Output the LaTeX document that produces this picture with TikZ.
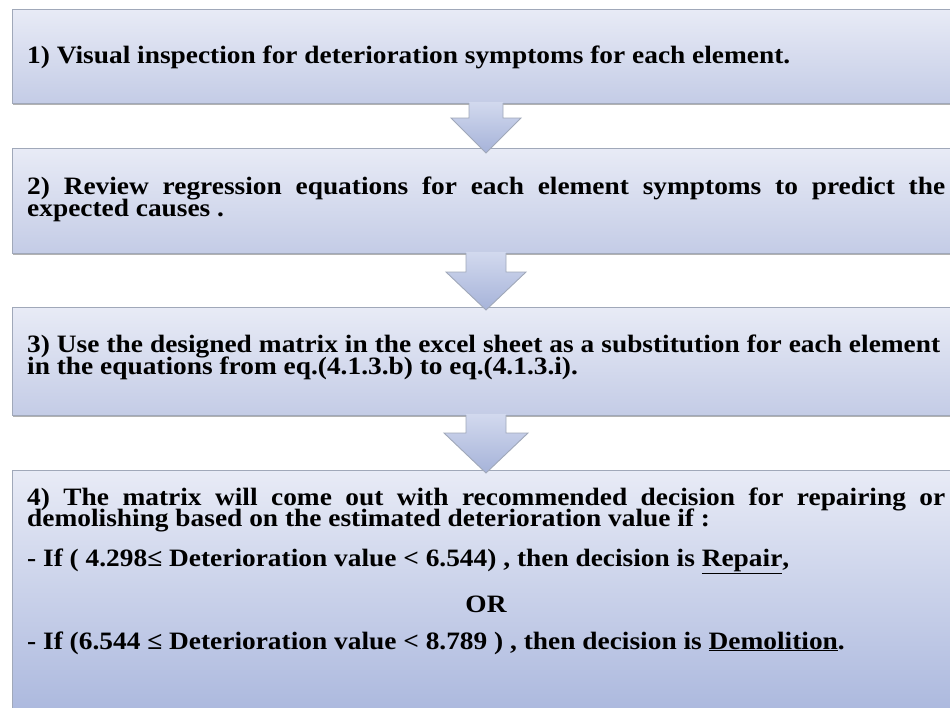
\documentclass[tikz,border=0pt]{standalone}
\usepackage{fontspec}
\setmainfont{Liberation Serif}[FakeStretch=1.095]
\usetikzlibrary{calc,shadows}
\definecolor{boxtop}{HTML}{E8EBF6}
\definecolor{boxbot}{HTML}{C4CCE6}
\definecolor{boxbotb}{HTML}{AAB7DD}
\definecolor{edge}{HTML}{A0A8B9}
\definecolor{arrtop}{HTML}{D2D9EE}
\definecolor{arrbot}{HTML}{A6B3D9}
\begin{document}
\begin{tikzpicture}[x=1pt,y=-1pt,
  stepbox/.style={draw=edge, line width=0.9pt, top color=boxtop, bottom color=boxbot,
    minimum width=948pt, anchor=north west, inner sep=0pt, outer sep=0pt,
    drop shadow={shadow xshift=1pt, shadow yshift=-2pt, opacity=0.3, fill=black}},
  txt/.style={anchor=base west, inner sep=0pt, font=\fontsize{25}{22}\selectfont\bfseries},
  arrfill/.style={top color=arrtop, bottom color=arrbot},
  arredge/.style={draw=edge, line width=0.9pt, line join=miter},
]
\useasboundingbox (0,0) rectangle (950,707);
% boxes
\node[stepbox, minimum height=94pt] (b1) at (12,9) {};
\node[stepbox, minimum height=105pt] (b2) at (12,148) {};
\node[stepbox, minimum height=108pt] (b3) at (12,307) {};
\node[stepbox, minimum height=250pt, bottom color=boxbotb] (b4) at (12,470) {};
% arrows
\foreach \src/\sw/\sh/\hw/\tip [count=\i] in {b1/17/15/35/50, b2/20/19/40/57, b3/20/18/42/58}{
  \shade[arrfill] ($(\src.south)+(-\sw,-1)$) -- ($(\src.south)+(-\sw,\sh)$) -- ($(\src.south)+(-\hw,\sh)$)
     -- ($(\src.south)+(0,\tip)$) -- ($(\src.south)+(\hw,\sh)$) -- ($(\src.south)+(\sw,\sh)$)
     -- ($(\src.south)+(\sw,-1)$) -- cycle;
  \draw[arredge] ($(\src.south)+(-\sw,0)$) -- ($(\src.south)+(-\sw,\sh)$) -- ($(\src.south)+(-\hw,\sh)$)
     -- ($(\src.south)+(0,\tip)$) -- ($(\src.south)+(\hw,\sh)$) -- ($(\src.south)+(\sw,\sh)$)
     -- ($(\src.south)+(\sw,0)$);
}
% texts
\node[txt] (t1) at (27,63) {1) Visual inspection for deterioration symptoms for each element.};
\node[txt] (t2a) at (27,194) {\makebox[918pt][s]{2) Review regression equations for each element symptoms to predict the}};
\node[txt] (t2b) at (27,216) {expected causes .};
\node[txt] (t3a) at (27,352) {\makebox[913pt][s]{3) Use the designed matrix in the excel sheet as a substitution for each element}};
\node[txt] (t3b) at (27,374) {in the equations from eq.(4.1.3.b) to eq.(4.1.3.i).};
\node[txt] (t4a) at (27,505) {\makebox[918pt][s]{4) The matrix will come out with recommended decision for repairing or}};
\node[txt] (t4b) at (27,526) {demolishing based on the estimated deterioration value if :};
\node[txt] (t4c) at (27,566) {- If ( 4.298≤ Deterioration value < 6.544) , then decision is \underline{Repair},};
\node[txt, anchor=base] (t4d) at (486,612) {OR};
\node[txt] (t4e) at (27,649) {- If (6.544 ≤ Deterioration value < 8.789 ) , then decision is \underline{Demolition}.};
\end{tikzpicture}
\end{document}
